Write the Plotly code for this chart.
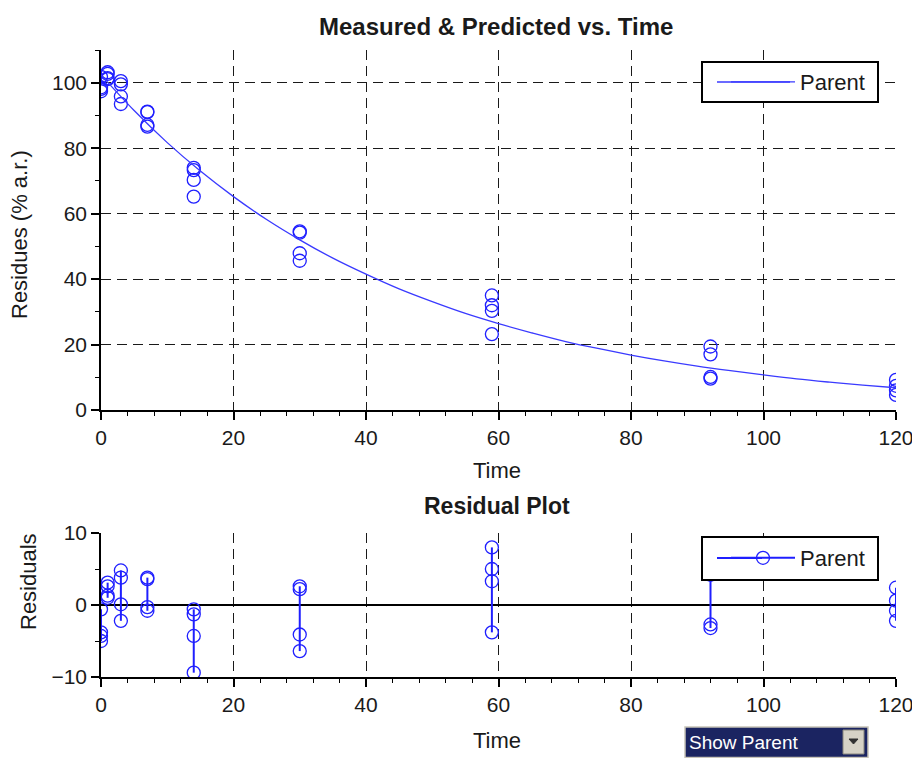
import plotly.graph_objects as go

# ---------------- data ----------------
sample_time = [0, 0, 0, 0,
               1, 1, 1, 1,
               3, 3, 3, 3,
               7, 7, 7, 7,
               14, 14, 14, 14,
               30, 30, 30, 30,
               59, 59, 59, 59,
               92, 92, 92, 92,
               120, 120, 120, 120]

measured = [101.8, 98.6, 98.1, 97.4,
            103.2, 102.7, 101.4, 101.1,
            100.5, 99.5, 95.8, 93.5,
            91.2, 91.0, 87.1, 86.6,
            74.0, 73.3, 70.3, 65.2,
            54.6, 54.2, 47.9, 45.6,
            35.0, 32.0, 30.3, 23.2,
            19.4, 17.0, 10.1, 9.6,
            9.2, 7.4, 6.0, 4.6]

residuals = [-0.6, -3.8, -4.3, -5.0,
             3.1, 2.6, 1.3, 1.0,
             4.8, 3.8, 0.1, -2.2,
             3.8, 3.6, -0.3, -0.8,
             -0.6, -1.3, -4.3, -9.4,
             2.6, 2.2, -4.1, -6.4,
             8.0, 5.0, 3.3, -3.8,
             6.6, 4.2, -2.7, -3.2,
             2.4, 0.6, -0.8, -2.2]

curve_time = [0, 5, 10, 15, 20, 25, 30, 35, 40, 45, 50, 55, 60,
              65, 70, 75, 80, 85, 90, 95, 100, 105, 110, 115, 120]
curve_pred = [102.4, 91.5, 81.7, 73.0, 65.2, 58.2, 52.0, 46.4, 41.5, 37.0,
              33.1, 29.5, 26.4, 23.6, 21.0, 18.8, 16.8, 15.0, 13.4, 12.0,
              10.7, 9.5, 8.5, 7.6, 6.8]

series_name = "Parent"
x_ticks = [0, 20, 40, 60, 80, 100, 120]
y_ticks_top = [0, 20, 40, 60, 80, 100]
y_ticks_res = [-10, 0, 10]

# ---------------- helpers ----------------
# The page body has an 8px margin, so the figure is placed at (8, 8) in the
# 920x758 window; coordinates below are given in window pixels.
OFF = 8
W, H = 920 - OFF, 758 - OFF
def px(x):
    return (x - OFF) / W
def py(y):
    return (758 - y) / H

BLUE = "#1f1fff"
CURVE = "#3a3aff"
TXT = "#1a1a1a"
FONT = "Liberation Sans, Arial, sans-serif"

# residual stems: connect the points of each sampling time
res_x, res_y = [], []
times_order = []
for t in sample_time:
    if t not in times_order:
        times_order.append(t)
for t in times_order:
    vals = sorted([r for tt, r in zip(sample_time, residuals) if tt == t], reverse=True)
    res_x += [t] * len(vals) + [None]
    res_y += vals + [None]

fig = go.Figure()

fig.add_trace(go.Scatter(
    x=sample_time, y=measured, mode="markers", showlegend=False,
    marker=dict(symbol="circle-open", size=13, color=BLUE, line=dict(width=1.3, color=BLUE)),
    xaxis="x", yaxis="y", hoverinfo="x+y"))

fig.add_trace(go.Scatter(
    x=curve_time, y=curve_pred, mode="lines", name=series_name,
    line=dict(color=CURVE, width=1.3, shape="spline"),
    xaxis="x", yaxis="y", legend="legend"))

fig.add_trace(go.Scatter(
    x=res_x, y=res_y, mode="lines+markers", name=series_name,
    line=dict(color=BLUE, width=2),
    marker=dict(symbol="circle-open", size=13, color=BLUE, line=dict(width=1.3, color=BLUE)),
    connectgaps=False,
    xaxis="x2", yaxis="y2", legend="legend2"))

axis_common = dict(
    showline=True, linecolor="black", linewidth=1.6,
    ticks="outside", ticklen=8, tickwidth=1.5, tickcolor="black",
    showgrid=True, gridcolor=TXT, gridwidth=1.4, griddash="10px,6px",
    zeroline=False, automargin=False,
    tickfont=dict(family=FONT, size=21, color=TXT),
    fixedrange=True,
)
minor_x = dict(dtick=4, tick0=0, ticks="outside", ticklen=4,
               tickcolor="black", tickwidth=1.3, showgrid=False)

dom_x = [px(101), px(896)]

legend_style = dict(bgcolor="rgba(0,0,0,0)", borderwidth=0,
                    font=dict(family=FONT, size=22, color=TXT), itemwidth=64,
                    xanchor="left", yanchor="top")

fig.update_layout(
    width=W, height=H,
    margin=dict(l=0, r=0, t=0, b=0, pad=0, autoexpand=False),
    paper_bgcolor="white", plot_bgcolor="white",
    font=dict(family=FONT, size=21, color=TXT),
    xaxis=dict(axis_common, domain=dom_x, range=[0, 120], tickvals=x_ticks,
               anchor="y", minor=minor_x),
    yaxis=dict(axis_common, domain=[py(410), py(50)], range=[0, 110], tickvals=y_ticks_top,
               anchor="x",
               minor=dict(dtick=10, tick0=0, ticks="outside", ticklen=4,
                          tickcolor="black", tickwidth=1.3, showgrid=False)),
    xaxis2=dict(axis_common, domain=dom_x, range=[0, 120], tickvals=x_ticks,
                anchor="y2", minor=minor_x),
    yaxis2=dict(axis_common, domain=[py(677), py(533)], range=[-10, 10], tickvals=y_ticks_res,
                anchor="x2", zeroline=True, zerolinecolor="black", zerolinewidth=1.6,
                minor=dict(dtick=5, tick0=0, ticks="outside", ticklen=4,
                           tickcolor="black", tickwidth=1.3, showgrid=False)),
    legend=dict(legend_style, x=px(726), y=py(61)),
    legend2=dict(legend_style, x=px(726), y=py(537)),
    showlegend=True,
)

# legend frames (white, opaque, drawn over the data like the original)
for (y0, y1) in [(62, 102), (537, 580)]:
    fig.add_shape(type="rect", xref="paper", yref="paper", layer="above",
                  x0=px(702), x1=px(878), y0=py(y1), y1=py(y0),
                  fillcolor="white", line=dict(color="black", width=2))
# longer legend line samples, as in the original
fig.add_shape(type="line", xref="paper", yref="paper", layer="above",
              x0=px(717), x1=px(790), y0=py(82), y1=py(82),
              line=dict(color=CURVE, width=1.6))
fig.add_shape(type="line", xref="paper", yref="paper", layer="above",
              x0=px(717), x1=px(762), y0=py(558), y1=py(558),
              line=dict(color=BLUE, width=2))

ann = [
    dict(text="<b>Measured & Predicted vs. Time</b>", x=px(496), y=py(27), size=24),
    dict(text="Time", x=px(497), y=py(470), size=22),
    dict(text="<b>Residual Plot</b>", x=px(497), y=py(506), size=23),
    dict(text="Time", x=px(497), y=py(740), size=22),
]
for a in ann:
    fig.add_annotation(text=a["text"], x=a["x"], y=a["y"], xref="paper", yref="paper",
                       xanchor="center", yanchor="middle", showarrow=False,
                       font=dict(family=FONT, size=a["size"], color=TXT))

fig.add_annotation(text="Residues (% a.r.)", x=px(20), y=py(235), xref="paper", yref="paper",
                   xanchor="center", yanchor="middle", showarrow=False, textangle=-90,
                   font=dict(family=FONT, size=22, color=TXT))
fig.add_annotation(text="Residuals", x=px(28), y=py(582), xref="paper", yref="paper",
                   xanchor="center", yanchor="middle", showarrow=False, textangle=-90,
                   font=dict(family=FONT, size=22, color=TXT))

# "Show Parent" selector widget
fig.add_shape(type="rect", xref="paper", yref="paper",
              x0=px(685), x1=px(868), y0=py(757.5), y1=py(727),
              fillcolor="#1b2461", line=dict(color="#c8c4b8", width=1.5))
fig.add_shape(type="rect", xref="paper", yref="paper",
              x0=px(843), x1=px(864), y0=py(754), y1=py(730),
              fillcolor="#d6d2c6", line=dict(color="#8a877c", width=1))
fig.add_shape(type="path", xref="paper", yref="paper",
              path=f"M {px(849)},{py(739)} L {px(858)},{py(739)} L {px(853.5)},{py(744)} Z",
              fillcolor="#303030", line=dict(color="#303030", width=1))
fig.add_annotation(text="Show Parent", x=px(687), y=py(742), xref="paper", yref="paper",
                   xanchor="left", yanchor="middle", showarrow=False,
                   font=dict(family=FONT, size=19, color="white"))

fig.write_html("out.html")
